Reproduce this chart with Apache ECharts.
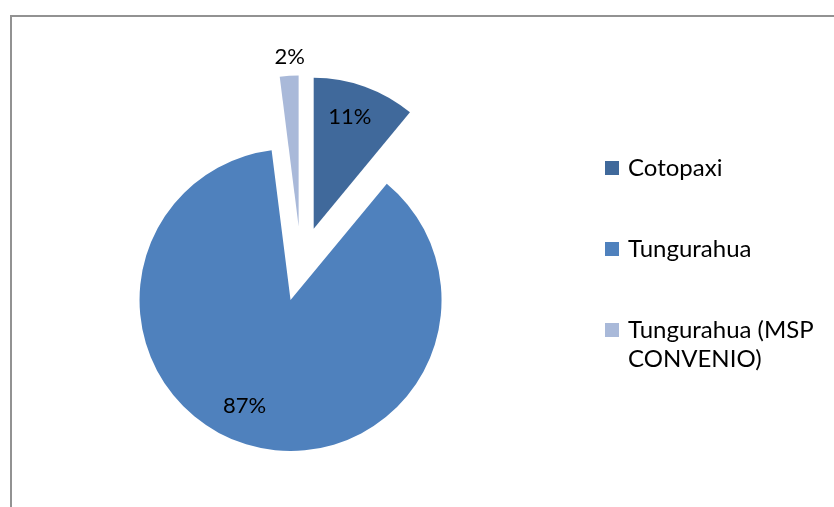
<!DOCTYPE html>
<html>
<head>
<meta charset="utf-8">
<script src="https://cdn.jsdelivr.net/npm/echarts@6/dist/echarts.min.js"></script>
<style>
  html, body { margin: 0; padding: 0; background: #fff; }
  #chart { width: 834px; height: 507px; }
</style>
</head>
<body>
<div id="chart"></div>
<script>
// Patients by province (share of total, %)
const categories = ['Cotopaxi', 'Tungurahua', 'Tungurahua (MSP CONVENIO)'];
const shares = [11, 87, 2];
const sliceColors = ['#40699B', '#4F81BD', '#A9B9D9'];
// where each percentage label sits: inside the slice or just beyond its rim
const labelPlace = ['inside', 'inside', 'outside'];
// small hand adjustments of the percentage labels, in pixels [dx, dy]
const labelNudge = [[-4, 0], [-13, -8], [2, 3]];

const FONT = 'Lato';
const CENTER = [301, 264];
const R = 151;

const chart = echarts.init(document.getElementById('chart'), null, { renderer: 'canvas' });

function sliceData(withStyle, labelFilter) {
  return categories.map((name, i) => ({
    name: name,
    value: shares[i],
    selected: true,
    itemStyle: withStyle ? { color: sliceColors[i] } : { color: 'rgba(0,0,0,0)' },
    label: { show: labelFilter ? labelFilter(i) : false }
  }));
}

const labelStyle = {
  position: 'inside',
  formatter: p => p.value + '%',
  color: '#000',
  fontFamily: FONT,
  fontSize: 22
};

const nudgeLabel = p => ({ dx: labelNudge[p.dataIndex][0], dy: labelNudge[p.dataIndex][1] });

// every slice is pulled out of the pie by the same distance
const common = {
  type: 'pie',
  center: CENTER,
  startAngle: 90,
  clockwise: true,
  selectedMode: 'multiple',
  selectedOffset: 37.5,
  animation: false,
  labelLine: { show: false },
  emphasis: { disabled: true }
};

chart.setOption({
  backgroundColor: '#fff',
  animation: false,
  graphic: [{
    type: 'rect',
    silent: true,
    shape: { x: 11, y: 16, width: 1000, height: 1000 },
    style: { fill: 'none', stroke: '#929292', lineWidth: 2 }
  }],
  legend: {
    orient: 'vertical',
    left: 605,
    top: 124.5,
    padding: 0,
    itemWidth: 14,
    itemHeight: 14,
    itemGap: -6,
    icon: 'rect',
    selectedMode: false,
    // three lines per entry, the name on the middle one, so the swatch
    // sits beside the first line of the name
    formatter: name => name === categories[2] ? '\n' + name : '\n' + name + '\n\u00a0',
    textStyle: {
      fontFamily: FONT,
      fontSize: 24,
      color: '#000',
      lineHeight: 29,
      width: 200,
      overflow: 'break',
      padding: [0, 0, 0, 4]
    },
    data: categories
  },
  series: [
    Object.assign({}, common, {
      name: 'slices',
      radius: [0, R],
      label: { show: false },
      data: sliceData(true, null)
    }),
    // percentage labels placed well inside the large slices
    Object.assign({}, common, {
      name: 'inner labels',
      silent: true,
      radius: [80, R],
      label: labelStyle,
      labelLayout: nudgeLabel,
      data: sliceData(false, i => labelPlace[i] === 'inside')
    }),
    // percentage label just beyond the rim of the thin slice
    Object.assign({}, common, {
      name: 'outer labels',
      silent: true,
      radius: [R, R + 38],
      label: labelStyle,
      labelLayout: nudgeLabel,
      data: sliceData(false, i => labelPlace[i] === 'outside')
    })
  ]
});
</script>
</body>
</html>
